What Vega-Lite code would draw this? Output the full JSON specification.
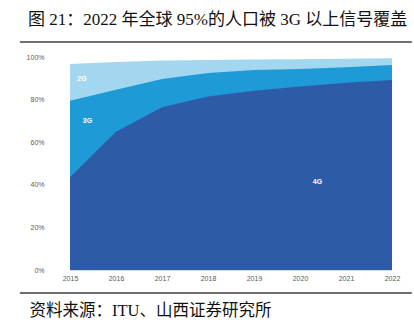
{
  "$schema": "https://vega.github.io/schema/vega-lite/v6.json",
  "width": 322,
  "height": 213,
  "autosize": {"type": "none"},
  "padding": {"left": 70, "top": 57, "right": 22, "bottom": 60},
  "background": "white",
  "title": {
    "text": "图 21：2022 年全球 95%的人口被 3G 以上信号覆盖",
    "anchor": "start",
    "frame": "group",
    "dx": -42,
    "offset": 12,
    "font": "Liberation Serif, Noto Sans CJK SC",
    "fontSize": 17,
    "fontWeight": "normal",
    "color": "#111111"
  },
  "config": {"view": {"stroke": null}},
  "data": {
    "values": [
      {"year": 2015, "network": "2G", "coverage": 96.7},
      {"year": 2016, "network": "2G", "coverage": 97.6},
      {"year": 2017, "network": "2G", "coverage": 98.3},
      {"year": 2018, "network": "2G", "coverage": 98.6},
      {"year": 2019, "network": "2G", "coverage": 98.8},
      {"year": 2020, "network": "2G", "coverage": 99.0},
      {"year": 2021, "network": "2G", "coverage": 99.2},
      {"year": 2022, "network": "2G", "coverage": 99.4},
      {"year": 2015, "network": "3G", "coverage": 79.5},
      {"year": 2016, "network": "3G", "coverage": 84.6},
      {"year": 2017, "network": "3G", "coverage": 89.7},
      {"year": 2018, "network": "3G", "coverage": 92.5},
      {"year": 2019, "network": "3G", "coverage": 93.9},
      {"year": 2020, "network": "3G", "coverage": 94.4},
      {"year": 2021, "network": "3G", "coverage": 95.2},
      {"year": 2022, "network": "3G", "coverage": 96.2},
      {"year": 2015, "network": "4G", "coverage": 43.5},
      {"year": 2016, "network": "4G", "coverage": 64.9},
      {"year": 2017, "network": "4G", "coverage": 76.4},
      {"year": 2018, "network": "4G", "coverage": 81.4},
      {"year": 2019, "network": "4G", "coverage": 84.2},
      {"year": 2020, "network": "4G", "coverage": 86.1},
      {"year": 2021, "network": "4G", "coverage": 87.9},
      {"year": 2022, "network": "4G", "coverage": 89.2}
    ]
  },
  "encoding": {
    "x": {
      "field": "year",
      "type": "quantitative",
      "scale": {"domain": [2015, 2022], "nice": false, "zero": false},
      "axis": {
        "values": [2015, 2016, 2017, 2018, 2019, 2020, 2021, 2022],
        "format": "d",
        "labelFontSize": 7,
        "labelFont": "Liberation Sans",
        "labelColor": "#595959",
        "labelPadding": 4,
        "labelFlush": false,
        "ticks": false,
        "grid": false,
        "domain": true,
        "domainColor": "#d9d9d9",
        "title": "资料来源：ITU、山西证券研究所",
        "titleFont": "Liberation Serif, Noto Sans CJK SC",
        "titleFontSize": 16.5,
        "titleFontWeight": "normal",
        "titleColor": "#111111",
        "titleAnchor": "start",
        "titleAlign": "left",
        "titleBaseline": "middle",
        "titleX": -41,
        "titleY": 40
      }
    },
    "y": {
      "field": "coverage",
      "type": "quantitative",
      "stack": null,
      "scale": {"domain": [0, 100], "nice": false},
      "axis": {
        "values": [0, 20, 40, 60, 80, 100],
        "labelExpr": "datum.value + '%'",
        "labelFontSize": 7,
        "labelFont": "Liberation Sans",
        "labelColor": "#595959",
        "labelPadding": 26,
        "ticks": false,
        "grid": false,
        "domain": false,
        "title": null
      }
    }
  },
  "layer": [
    {
      "transform": [{"filter": "datum.network === '2G'"}],
      "mark": {"type": "area", "color": "#a3d7ef", "interpolate": "linear"}
    },
    {
      "transform": [{"filter": "datum.network === '3G'"}],
      "mark": {"type": "area", "color": "#1e9bd7", "interpolate": "linear"}
    },
    {
      "transform": [{"filter": "datum.network === '4G'"}],
      "mark": {"type": "area", "color": "#2d5ba8", "interpolate": "linear"}
    },
    {
      "transform": [{"filter": "datum.network === '2G' && datum.year === 2015"}],
      "mark": {"type": "text", "text": "2G", "color": "white", "fontSize": 7, "fontWeight": "bold", "font": "Liberation Sans"},
      "encoding": {"x": {"datum": 2015.26}, "y": {"datum": 89.5}}
    },
    {
      "transform": [{"filter": "datum.network === '3G' && datum.year === 2015"}],
      "mark": {"type": "text", "text": "3G", "color": "white", "fontSize": 7, "fontWeight": "bold", "font": "Liberation Sans"},
      "encoding": {"x": {"datum": 2015.38}, "y": {"datum": 70.0}}
    },
    {
      "transform": [{"filter": "datum.network === '4G' && datum.year === 2020"}],
      "mark": {"type": "text", "text": "4G", "color": "white", "fontSize": 7, "fontWeight": "bold", "font": "Liberation Sans"},
      "encoding": {"x": {"datum": 2020.38}, "y": {"datum": 41.5}}
    },
    {
      "transform": [{"filter": "datum.network === '2G' && datum.year === 2015"}],
      "mark": {"type": "rule", "color": "#404040", "strokeWidth": 1.5},
      "encoding": {"x": {"datum": 2013.91}, "x2": {"datum": 2022.43}, "y": {"datum": 107.0}}
    },
    {
      "transform": [{"filter": "datum.network === '2G' && datum.year === 2015"}],
      "mark": {"type": "rule", "color": "#404040", "strokeWidth": 1.5},
      "encoding": {"x": {"datum": 2013.91}, "x2": {"datum": 2022.43}, "y": {"datum": -10.8}}
    }
  ]
}
